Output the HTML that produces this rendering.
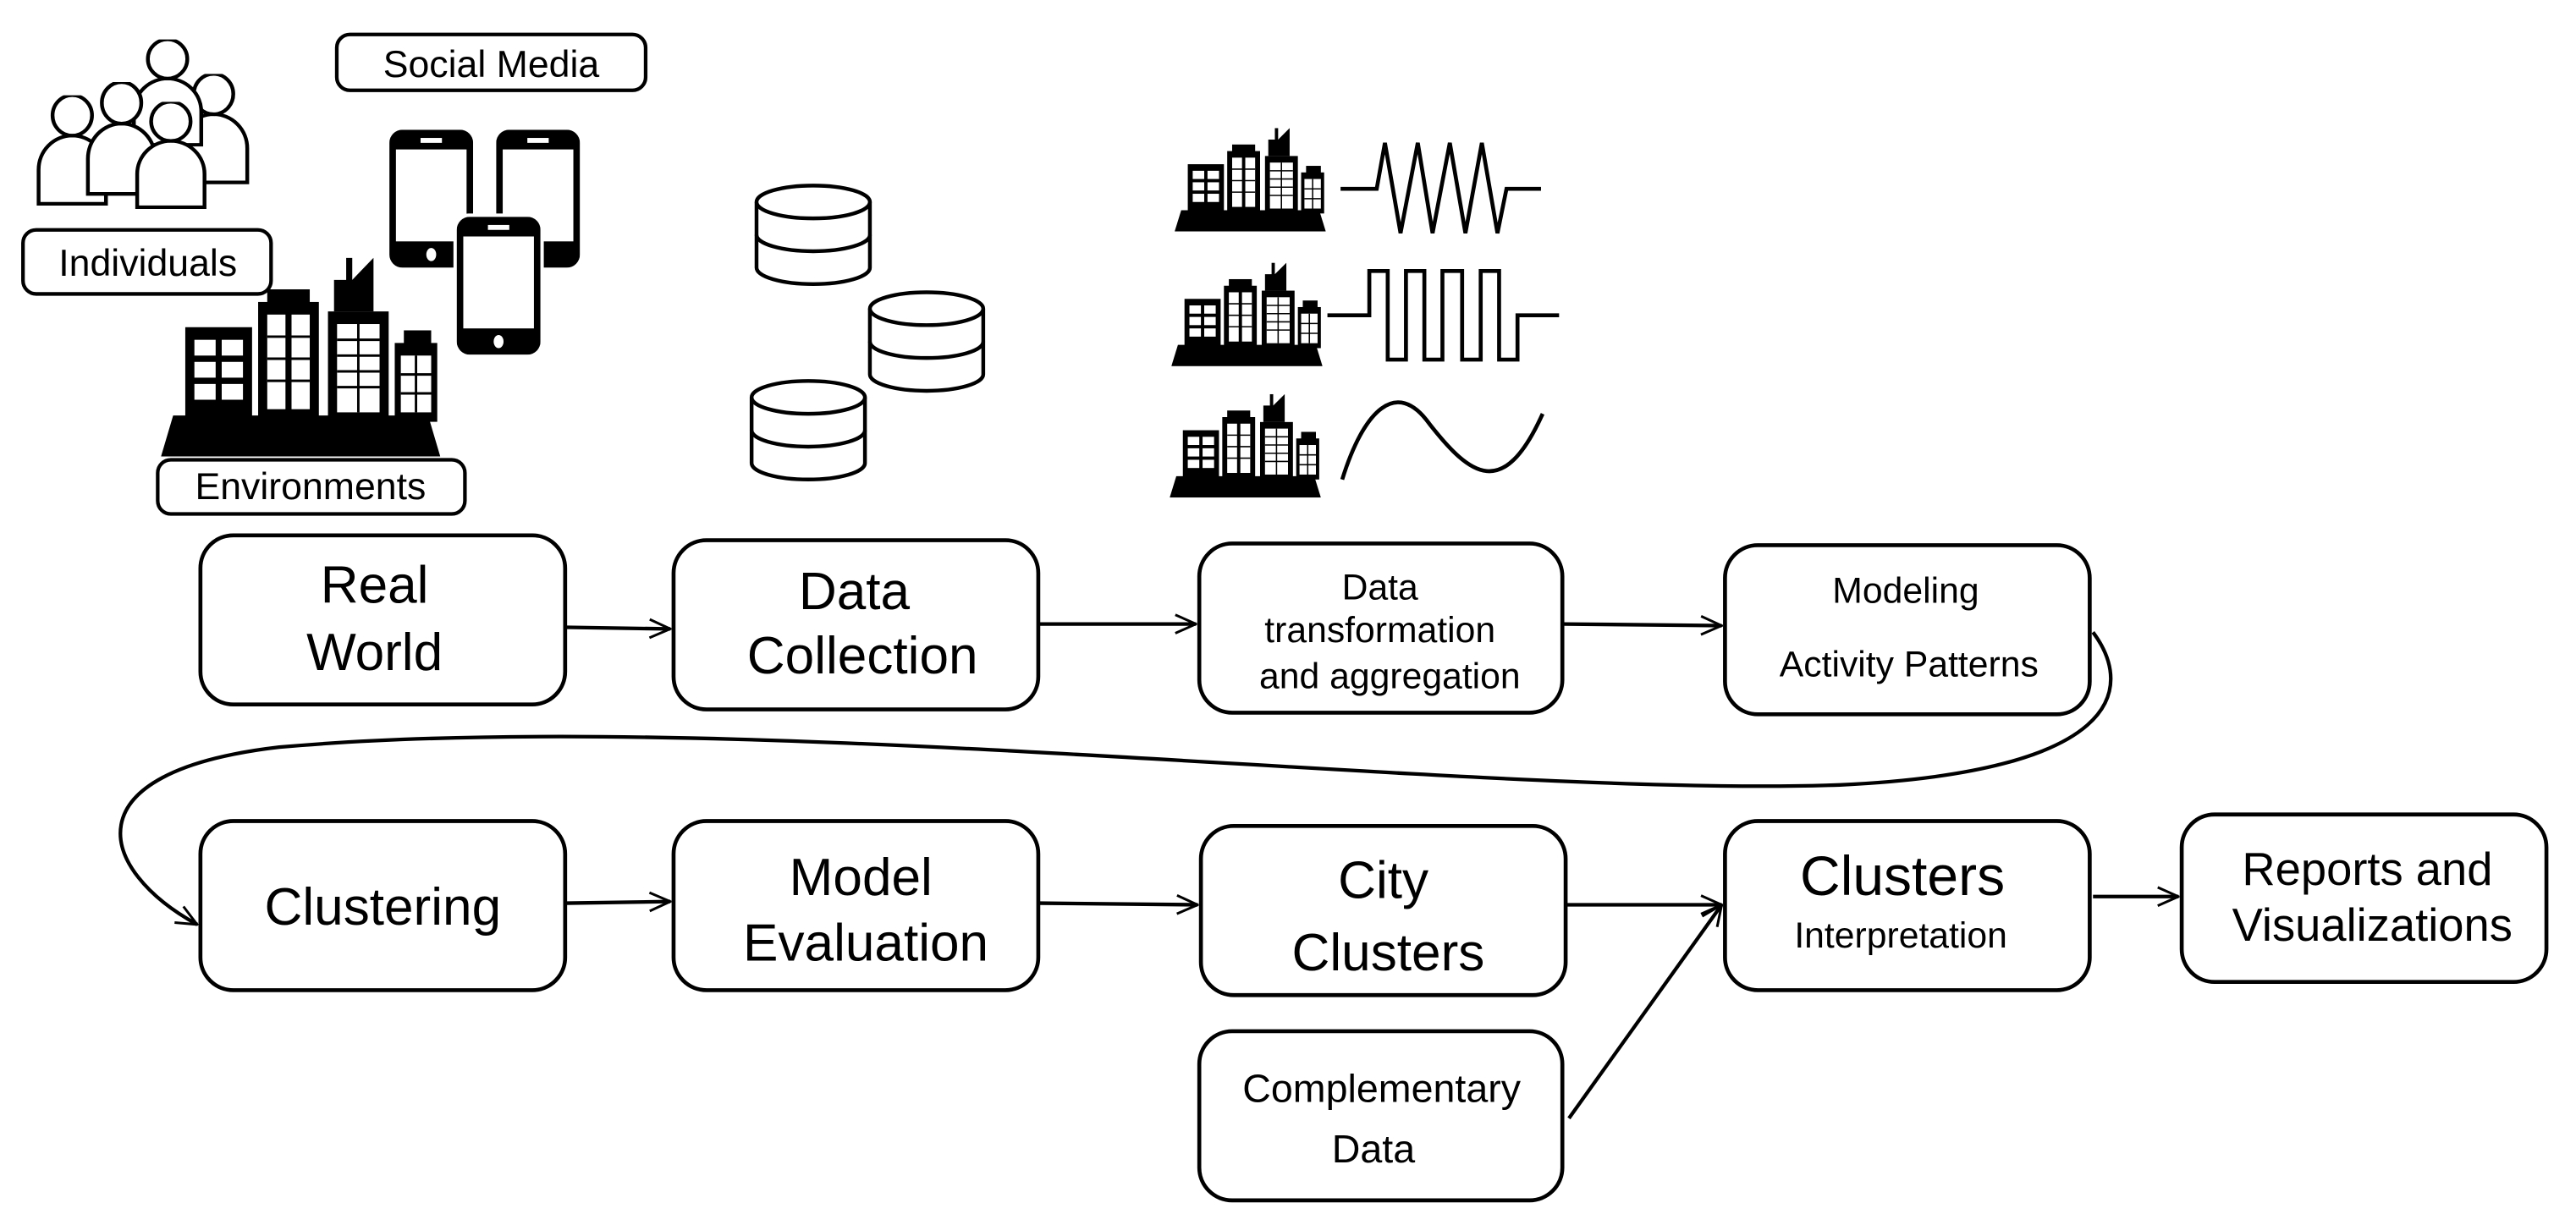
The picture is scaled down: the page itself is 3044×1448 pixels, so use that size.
<!DOCTYPE html>
<html><head><meta charset="utf-8"><style>
html,body{margin:0;padding:0;background:#fff}
svg{display:block}
text{font-family:"Liberation Sans",sans-serif;fill:#000;text-anchor:middle}
</style></head><body>
<svg width="3044" height="1448" viewBox="0 0 1568 746" preserveAspectRatio="none" xmlns="http://www.w3.org/2000/svg">
<defs>
<marker id="a" viewBox="0 0 20 20" refX="19" refY="10" markerWidth="14" markerHeight="14" markerUnits="userSpaceOnUse" orient="auto">
<path d="M1,2 L19,10 L1,18" fill="none" stroke="#000" stroke-width="2.2"/>
</marker>
<symbol id="city" viewBox="0 0 92 63" preserveAspectRatio="none">
<polygon points="4,50 88,50 92,63 0,63" fill="#000"/>
<rect x="8" y="22" width="22" height="30" fill="#000"/>
<rect x="32" y="14" width="20" height="38" fill="#000"/>
<rect x="35" y="10" width="14" height="5" fill="#000"/>
<rect x="55" y="17" width="20" height="35" fill="#000"/>
<polygon points="57,17 57,7 61,7 61,0 63,0 63,7 66,4 70,0 70,17" fill="#000"/>
<rect x="77" y="27" width="14" height="25" fill="#000"/>
<rect x="80" y="23" width="9" height="5" fill="#000"/>
<g fill="#fff">
<rect x="11" y="26" width="7" height="5"/><rect x="20" y="26" width="7" height="5"/>
<rect x="11" y="33" width="7" height="5"/><rect x="20" y="33" width="7" height="5"/>
<rect x="11" y="40" width="7" height="5"/><rect x="20" y="40" width="7" height="5"/>
<rect x="35" y="18" width="6" height="30"/><rect x="43" y="18" width="6" height="30"/>
<rect x="58" y="21" width="14" height="28"/>
<rect x="79" y="31" width="10" height="18"/>
</g>
<g stroke="#000" stroke-width="0.8">
<line x1="35" y1="25" x2="49" y2="25"/><line x1="35" y1="32" x2="49" y2="32"/><line x1="35" y1="39" x2="49" y2="39"/>
<line x1="58" y1="26" x2="72" y2="26"/><line x1="58" y1="31" x2="72" y2="31"/><line x1="58" y1="36" x2="72" y2="36"/><line x1="58" y1="41" x2="72" y2="41"/><line x1="65" y1="21" x2="65" y2="49"/>
<line x1="79" y1="37" x2="89" y2="37"/><line x1="79" y1="43" x2="89" y2="43"/><line x1="84" y1="31" x2="84" y2="49"/>
</g>
</symbol>
<symbol id="db" viewBox="0 0 72 64" preserveAspectRatio="none">
<path d="M1.5,12 L1.5,52 A34.5,10 0 0 0 70.5,52 L70.5,12" fill="#fff" stroke="#000" stroke-width="2.3"/>
<ellipse cx="36" cy="12" rx="34.5" ry="10" fill="#fff" stroke="#000" stroke-width="2.3"/>
<path d="M1.5,32 A34.5,10 0 0 0 70.5,32" fill="none" stroke="#000" stroke-width="2.3"/>
</symbol>
<symbol id="phone" viewBox="0 0 51 84" preserveAspectRatio="none">
<rect x="0" y="0" width="51" height="84" rx="8" fill="#000"/>
<rect x="4" y="12" width="43" height="56" fill="#fff"/>
<rect x="19" y="5" width="13" height="3" fill="#fff"/>
<ellipse cx="25.5" cy="76" rx="3" ry="4" fill="#fff"/>
</symbol>
<symbol id="person" viewBox="0 0 44 72" preserveAspectRatio="none">
<path d="M1.5,70 L1.5,48 A20.5,22 0 0 1 42.5,48 L42.5,70 Z" fill="#fff" stroke="#000" stroke-width="2.3"/>
<ellipse cx="22" cy="13" rx="12" ry="13" fill="#fff" stroke="#000" stroke-width="2.3"/>
</symbol>
</defs>

<use href="#person" x="108" y="45" width="44" height="68"/>
<use href="#person" x="80" y="24" width="44" height="66"/>
<use href="#person" x="22" y="58" width="44" height="68"/>
<use href="#person" x="52" y="50" width="44" height="70"/>
<use href="#person" x="82" y="62" width="44" height="66"/>

<use href="#phone" x="237" y="79" width="51" height="84"/>
<use href="#phone" x="302" y="79" width="51" height="84"/>
<rect x="276" y="130" width="55" height="88" rx="9" fill="#fff"/>
<use href="#phone" x="278" y="132" width="51" height="84"/>

<use href="#city" x="98" y="157" width="170" height="121"/>

<use href="#db" x="459" y="111" width="72" height="64"/>
<use href="#db" x="528" y="176" width="72" height="64"/>
<use href="#db" x="456" y="230" width="72" height="64"/>

<use href="#city" x="715" y="78" width="92" height="63"/>
<use href="#city" x="713" y="160" width="92" height="63"/>
<use href="#city" x="712" y="240" width="92" height="63"/>
<g fill="none" stroke="#000" stroke-width="2.4">
<polyline points="816,115 838,115 843,87 852.5,142 863,87 872,142 882.5,87 892,142 902,87 911.5,142 917,115 938,115"/>
<polyline points="808,192 833.5,192 833.5,165 844.7,165 844.7,219 855.8,219 855.8,165 867,165 867,219 878,219 878,165 890,165 890,219 901.3,219 901.3,165 912.5,165 912.5,219 923.7,219 923.7,192 949,192"/>
<path d="M817,292 C830,250 850,230 870,258 C895,290 915,305 939,252"/>
</g>

<g fill="#fff" stroke="#000" stroke-width="2.2">
<rect x="205" y="21" width="188" height="34" rx="8"/>
<rect x="14" y="140" width="151" height="39" rx="8"/>
<rect x="96" y="280" width="187" height="33" rx="8"/>
</g>
<text x="299" y="47" font-size="23">Social Media</text>
<text x="90" y="168" font-size="23">Individuals</text>
<text x="189" y="304" font-size="23">Environments</text>

<g fill="#fff" stroke="#000" stroke-width="2.4">
<rect x="122" y="326" width="222" height="103" rx="20"/>
<rect x="410" y="329" width="222" height="103" rx="20"/>
<rect x="730" y="331" width="221" height="103" rx="20"/>
<rect x="1050" y="332" width="222" height="103" rx="20"/>
<rect x="122" y="500" width="222" height="103" rx="20"/>
<rect x="410" y="500" width="222" height="103" rx="20"/>
<rect x="731" y="503" width="222" height="103" rx="20"/>
<rect x="1050" y="500" width="222" height="103" rx="20"/>
<rect x="1328" y="496" width="222" height="102" rx="20"/>
<rect x="730" y="628" width="221" height="103" rx="20"/>
</g>
<g font-size="32">
<text x="228" y="367">Real</text><text x="228" y="408">World</text>
<text x="520" y="371">Data</text><text x="525" y="410">Collection</text>
<text x="233" y="563">Clustering</text>
<text x="524" y="545">Model</text><text x="527" y="585">Evaluation</text>
<text x="842" y="547">City</text><text x="845" y="591">Clusters</text>
<text x="1158" y="545" font-size="34">Clusters</text>
</g>
<g font-size="22">
<text x="840" y="365">Data</text><text x="840" y="391">transformation</text><text x="846" y="419">and aggregation</text>
<text x="1160" y="367">Modeling</text><text x="1162" y="412">Activity Patterns</text>
<text x="1157" y="577">Interpretation</text>
<text x="841" y="671" font-size="24">Complementary</text><text x="836" y="708" font-size="24">Data</text>
<text x="1441" y="539" font-size="28">Reports and</text><text x="1444" y="573" font-size="28">Visualizations</text>
</g>

<g fill="none" stroke="#000" stroke-width="2.2" marker-end="url(#a)">
<line x1="345" y1="382" x2="408" y2="383"/>
<line x1="633" y1="380" x2="728" y2="380"/>
<line x1="952" y1="380" x2="1048" y2="381"/>
<line x1="345" y1="550" x2="408" y2="549"/>
<line x1="633" y1="550" x2="729" y2="551"/>
<line x1="954" y1="551" x2="1048" y2="551"/>
<line x1="955" y1="681" x2="1048" y2="551"/>
<line x1="1274" y1="546" x2="1326" y2="546"/>
<path d="M1274,385 C1300,420 1290,470 1120,478 C900,486 450,430 170,455 C40,470 60,530 120,563"/>
</g>
</svg>
</body></html>
